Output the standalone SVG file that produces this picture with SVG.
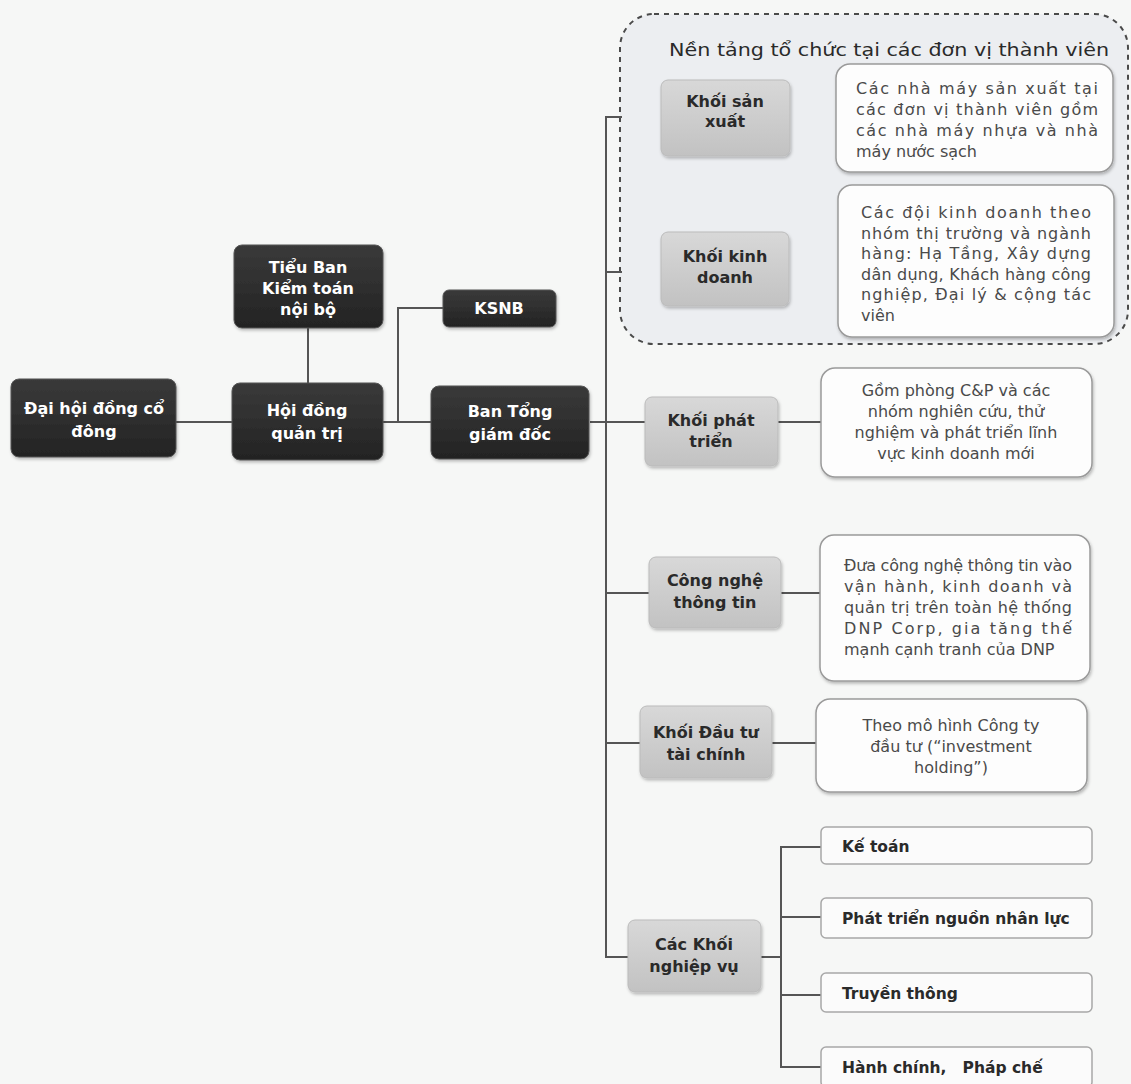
<svg xmlns="http://www.w3.org/2000/svg" width="1131" height="1084" viewBox="0 0 1131 1084">
<defs>
<linearGradient id="gDark" x1="0" y1="0" x2="0" y2="1"><stop offset="0" stop-color="#3a3a3a"/><stop offset="1" stop-color="#232323"/></linearGradient>
<linearGradient id="gLight" x1="0" y1="0" x2="0" y2="1"><stop offset="0" stop-color="#d8d8d8"/><stop offset="1" stop-color="#c2c2c2"/></linearGradient>
<filter id="sh" x="-10%" y="-10%" width="120%" height="130%"><feDropShadow dx="1" dy="2" stdDeviation="1.5" flood-color="#000" flood-opacity="0.25"/></filter>
<style>
.dark{fill:url(#gDark);stroke:#555;stroke-width:1}
.light{fill:url(#gLight);stroke:#bbb;stroke-width:1}
.desc{fill:#fdfdfd;stroke:#9a9a9a;stroke-width:1.5}
.sub{fill:#fbfbfb;stroke:#a8a8a8;stroke-width:1.5}
.tw{font-family:"DejaVu Sans","Liberation Sans",sans-serif;font-weight:bold;font-size:16px;fill:#fff;text-anchor:middle}
.tb{font-family:"DejaVu Sans","Liberation Sans",sans-serif;font-weight:bold;font-size:16px;fill:#2a2a2a;text-anchor:middle}
.ts{font-family:"DejaVu Sans","Liberation Sans",sans-serif;font-weight:bold;font-size:15.5px;fill:#2a2a2a}
.td{font-family:"DejaVu Sans","Liberation Sans",sans-serif;font-size:16px;fill:#4a4a4a}
.tc{font-family:"DejaVu Sans","Liberation Sans",sans-serif;font-size:16px;fill:#4a4a4a;text-anchor:middle}
.conn line,.conn polyline{stroke:#555;stroke-width:2;fill:none}
</style>
</defs>
<rect width="1131" height="1084" fill="#f6f7f6"/>

<g id="region-member-units">
<rect x="620" y="14" width="508" height="330" rx="34" fill="#eceef1" stroke="#4a4a4a" stroke-width="2" stroke-dasharray="5 5"/>
<text x="669" y="56" font-family="DejaVu Sans, Liberation Sans, sans-serif" font-size="17" fill="#2a2a2a" textLength="440" lengthAdjust="spacingAndGlyphs">Nền tảng tổ chức tại các đơn vị thành viên</text>
</g>

<g class="conn" id="connectors">
<line x1="176" y1="422" x2="232" y2="422"/>
<line x1="308" y1="328" x2="308" y2="383"/>
<line x1="383" y1="422" x2="431" y2="422"/>
<polyline points="398,422 398,308 443,308"/>
<line x1="590" y1="422" x2="606" y2="422"/>
<line x1="606" y1="117" x2="606" y2="957"/>
<line x1="605" y1="117" x2="622" y2="117"/>
<line x1="606" y1="272" x2="622" y2="272"/>
<line x1="606" y1="422" x2="645" y2="422"/>
<line x1="606" y1="593" x2="649" y2="593"/>
<line x1="606" y1="743" x2="640" y2="743"/>
<line x1="605" y1="957" x2="628" y2="957"/>
<line x1="778" y1="422" x2="821" y2="422"/>
<line x1="781" y1="593" x2="820" y2="593"/>
<line x1="772" y1="743" x2="816" y2="743"/>
<line x1="761" y1="957" x2="781" y2="957"/>
<line x1="781" y1="847" x2="781" y2="1067"/>
<line x1="780" y1="847" x2="821" y2="847"/>
<line x1="781" y1="917" x2="821" y2="917"/>
<line x1="781" y1="995" x2="821" y2="995"/>
<line x1="780" y1="1067" x2="821" y2="1067"/>
</g>

<g id="dai-hoi-dong-co-dong">
<rect class="dark" x="11" y="379" width="165" height="78" rx="8" filter="url(#sh)"/>
<text class="tw" x="94" y="414">Đại hội đồng cổ</text>
<text class="tw" x="94" y="437">đông</text>
</g>
<g id="tieu-ban-kiem-toan">
<rect class="dark" x="234" y="245" width="149" height="83" rx="8" filter="url(#sh)"/>
<text class="tw" x="308" y="273">Tiểu Ban</text>
<text class="tw" x="308" y="294">Kiểm toán</text>
<text class="tw" x="308" y="315">nội bộ</text>
</g>
<g id="hoi-dong-quan-tri">
<rect class="dark" x="232" y="383" width="151" height="77" rx="8" filter="url(#sh)"/>
<text class="tw" x="307" y="416">Hội đồng</text>
<text class="tw" x="307" y="439">quản trị</text>
</g>
<g id="ksnb">
<rect class="dark" x="443" y="290" width="113" height="37" rx="6" filter="url(#sh)"/>
<text class="tw" x="499" y="314">KSNB</text>
</g>
<g id="ban-tong-giam-doc">
<rect class="dark" x="431" y="386" width="158" height="73" rx="8" filter="url(#sh)"/>
<text class="tw" x="510" y="417">Ban Tổng</text>
<text class="tw" x="510" y="440">giám đốc</text>
</g>

<g id="khoi-san-xuat">
<rect class="light" x="661" y="80" width="129" height="76" rx="7" filter="url(#sh)"/>
<text class="tb" x="725" y="107">Khối sản</text>
<text class="tb" x="725" y="127">xuất</text>
</g>
<g id="desc-san-xuat">
<rect class="desc" x="836" y="64" width="277" height="108" rx="14" filter="url(#sh)"/>
<text class="td" x="856" y="94" textLength="242" lengthAdjust="spacing">Các nhà máy sản xuất tại</text>
<text class="td" x="856" y="115" textLength="242" lengthAdjust="spacing">các đơn vị thành viên gồm</text>
<text class="td" x="856" y="136" textLength="242" lengthAdjust="spacing">các nhà máy nhựa và nhà</text>
<text class="td" x="856" y="157">máy nước sạch</text>
</g>

<g id="khoi-kinh-doanh">
<rect class="light" x="661" y="232" width="128" height="74" rx="7" filter="url(#sh)"/>
<text class="tb" x="725" y="262">Khối kinh</text>
<text class="tb" x="725" y="283">doanh</text>
</g>
<g id="desc-kinh-doanh">
<rect class="desc" x="838" y="185" width="276" height="152" rx="14" filter="url(#sh)"/>
<text class="td" x="861" y="218" textLength="230" lengthAdjust="spacing">Các đội kinh doanh theo</text>
<text class="td" x="861" y="238.5" textLength="230" lengthAdjust="spacing">nhóm thị trường và ngành</text>
<text class="td" x="861" y="259" textLength="230" lengthAdjust="spacing">hàng: Hạ Tầng, Xây dựng</text>
<text class="td" x="861" y="279.5" textLength="230" lengthAdjust="spacing">dân dụng, Khách hàng công</text>
<text class="td" x="861" y="300" textLength="230" lengthAdjust="spacing">nghiệp, Đại lý &amp; cộng tác</text>
<text class="td" x="861" y="320.5">viên</text>
</g>

<g id="khoi-phat-trien">
<rect class="light" x="645" y="397" width="133" height="69" rx="7" filter="url(#sh)"/>
<text class="tb" x="711" y="426">Khối phát</text>
<text class="tb" x="711" y="447">triển</text>
</g>
<g id="desc-phat-trien">
<rect class="desc" x="821" y="368" width="271" height="109" rx="14" filter="url(#sh)"/>
<text class="tc" x="956" y="396">Gồm phòng C&amp;P và các</text>
<text class="tc" x="956" y="417">nhóm nghiên cứu, thử</text>
<text class="tc" x="956" y="438">nghiệm và phát triển lĩnh</text>
<text class="tc" x="956" y="459">vực kinh doanh mới</text>
</g>

<g id="cong-nghe-thong-tin">
<rect class="light" x="649" y="557" width="132" height="71" rx="7" filter="url(#sh)"/>
<text class="tb" x="715" y="586">Công nghệ</text>
<text class="tb" x="715" y="608">thông tin</text>
</g>
<g id="desc-cong-nghe">
<rect class="desc" x="820" y="535" width="270" height="146" rx="14" filter="url(#sh)"/>
<text class="td" x="844" y="571" textLength="228" lengthAdjust="spacing">Đưa công nghệ thông tin vào</text>
<text class="td" x="844" y="592" textLength="228" lengthAdjust="spacing">vận hành, kinh doanh và</text>
<text class="td" x="844" y="613" textLength="228" lengthAdjust="spacing">quản trị trên toàn hệ thống</text>
<text class="td" x="844" y="634" textLength="228" lengthAdjust="spacing">DNP Corp, gia tăng thế</text>
<text class="td" x="844" y="655">mạnh cạnh tranh của DNP</text>
</g>

<g id="khoi-dau-tu-tai-chinh">
<rect class="light" x="640" y="706" width="132" height="72" rx="7" filter="url(#sh)"/>
<text class="tb" x="706" y="738">Khối Đầu tư</text>
<text class="tb" x="706" y="760">tài chính</text>
</g>
<g id="desc-dau-tu">
<rect class="desc" x="816" y="699" width="271" height="93" rx="14" filter="url(#sh)"/>
<text class="tc" x="951" y="731">Theo mô hình Công ty</text>
<text class="tc" x="951" y="752">đầu tư (“investment</text>
<text class="tc" x="951" y="773">holding”)</text>
</g>

<g id="cac-khoi-nghiep-vu">
<rect class="light" x="628" y="920" width="133" height="72" rx="7" filter="url(#sh)"/>
<text class="tb" x="694" y="950">Các Khối</text>
<text class="tb" x="694" y="972">nghiệp vụ</text>
</g>
<g id="ke-toan">
<rect class="sub" x="821" y="827" width="271" height="37" rx="5"/>
<text class="ts" x="842" y="852">Kế toán</text>
</g>
<g id="phat-trien-nguon-nhan-luc">
<rect class="sub" x="821" y="898" width="271" height="40" rx="5"/>
<text class="ts" x="842" y="924">Phát triển nguồn nhân lực</text>
</g>
<g id="truyen-thong">
<rect class="sub" x="821" y="973" width="271" height="39" rx="5"/>
<text class="ts" x="842" y="999">Truyền thông</text>
</g>
<g id="hanh-chinh-phap-che">
<rect class="sub" x="821" y="1047" width="271" height="40" rx="5"/>
<text class="ts" x="842" y="1073" xml:space="preserve">Hành chính,   Pháp chế</text>
</g>
</svg>
